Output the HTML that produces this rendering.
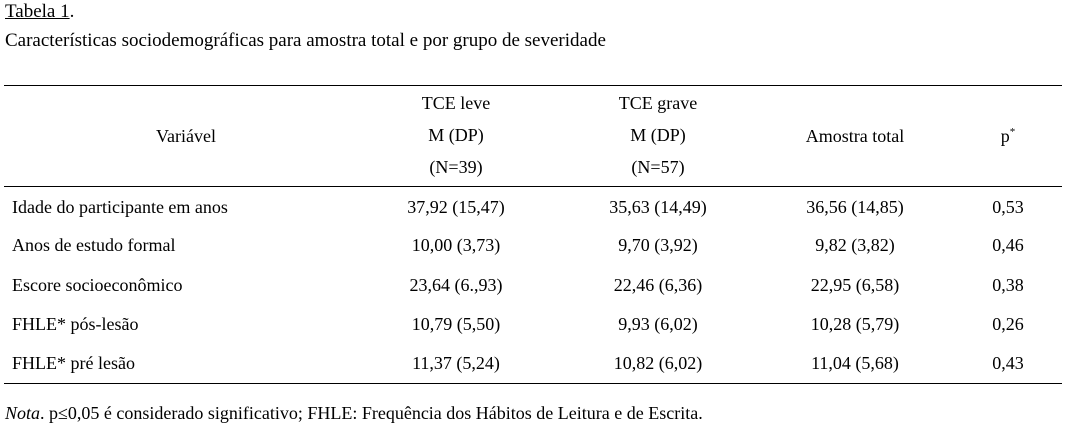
<!DOCTYPE html>
<html><head><meta charset="utf-8"><style>
body{margin:0;width:1068px;height:431px;background:#fff;position:relative;overflow:hidden;font-family:"Liberation Serif",serif;font-size:18px;color:#000}
.t{position:absolute;white-space:nowrap;line-height:20px}
.c{transform:translateX(-50%)}
.r{position:absolute;left:4px;width:1058px;height:1px;background:#000}
.big{font-size:19px}
</style></head><body>
<div class="t big" style="left:5px;top:2px"><span style="text-decoration:underline">Tabela 1</span>.</div>
<div class="t big" style="left:5px;top:31px">Características sociodemográficas para amostra total e por grupo de severidade</div>
<div class="r" style="top:85px"></div>
<div class="t c" style="left:186px;top:126px">Variável</div>
<div class="t c" style="left:456px;top:87px;text-align:center;line-height:32px">TCE leve<br>M (DP)<br>(N=39)</div>
<div class="t c" style="left:658px;top:87px;text-align:center;line-height:32px">TCE grave<br>M (DP)<br>(N=57)</div>
<div class="t c" style="left:855px;top:126px">Amostra total</div>
<div class="t c" style="left:1008px;top:126px">p<sup style="font-size:11px;vertical-align:7px;line-height:0">*</sup></div>
<div class="r" style="top:186px"></div>
<div id="rows"></div>
<div class="r" style="top:383px"></div>
<div class="t" style="left:5px;top:403px"><i>Nota</i>. p≤0,05 é considerado significativo; FHLE: Frequência dos Hábitos de Leitura e de Escrita.</div>
<script>
const variables=["Idade do participante em anos","Anos de estudo formal","Escore socioeconômico","FHLE* pós-lesão","FHLE* pré lesão"];
const leve=["37,92 (15,47)","10,00 (3,73)","23,64 (6.,93)","10,79 (5,50)","11,37 (5,24)"];
const grave=["35,63 (14,49)","9,70 (3,92)","22,46 (6,36)","9,93 (6,02)","10,82 (6,02)"];
const total=["36,56 (14,85)","9,82 (3,82)","22,95 (6,58)","10,28 (5,79)","11,04 (5,68)"];
const pvals=["0,53","0,46","0,38","0,26","0,43"];
const tops=[197,235,275,314,353];
const host=document.getElementById('rows');
function cell(txt,left,top,center,name){
  const d=document.createElement('div');
  d.className='t'+(center?' c':'');
  d.style.left=left+'px';d.style.top=top+'px';d.textContent=txt;
  
  
  host.appendChild(d);
}
variables.forEach((v,i)=>{
  cell(v,12,tops[i],false,'row-label');
  cell(leve[i],456,tops[i],true,'cell-tce-leve');
  cell(grave[i],658,tops[i],true,'cell-tce-grave');
  cell(total[i],855,tops[i],true,'cell-amostra-total');
  cell(pvals[i],1008,tops[i],true,'cell-p-value');
});
</script>
</body></html>
